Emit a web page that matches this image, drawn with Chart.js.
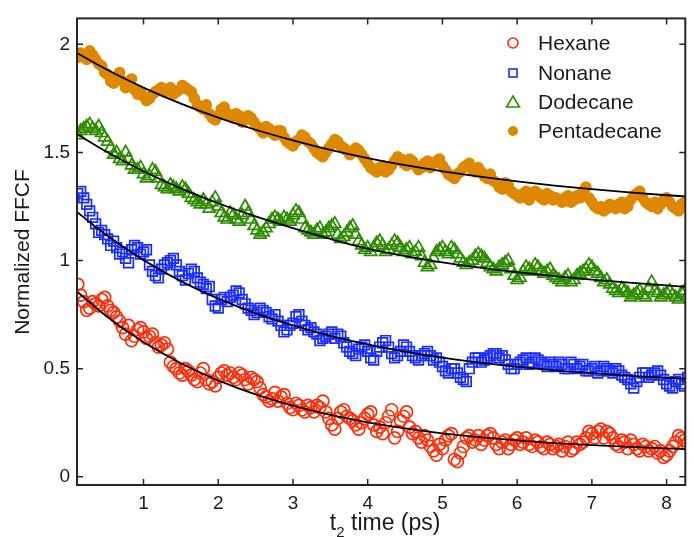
<!DOCTYPE html>
<html>
<head>
<meta charset="utf-8">
<script src="https://cdn.jsdelivr.net/npm/chart.js@4.4.1/dist/chart.umd.min.js"></script>
<style>
  html, body { margin: 0; padding: 0; background: #fff; }
  #wrap { width: 694px; height: 537px; }
</style>
</head>
<body>
<div id="wrap"><canvas id="ffcf" width="694" height="537"></canvas></div>
<script>
// t2 waiting times (ps), two interleaved sampling grids
const t = [0.12,0.20,0.28,0.36,0.44,0.52,0.60,0.68,0.76,0.84,0.92,1.00,1.08,1.16,1.24,1.32,1.40,1.48,1.56,1.64,
  1.72,1.80,1.88,1.96,2.04,2.12,2.20,2.28,2.36,2.44,2.52,2.60,2.68,2.76,2.84,2.92,3.00,3.08,3.16,3.24,
  3.32,3.40,3.48,3.56,3.64,3.72,3.80,3.88,3.96,4.04,4.12,4.20,4.28,4.36,4.44,4.52,4.60,4.68,4.76,4.84,
  4.92,5.00,5.08,5.16,5.24,5.32,5.40,5.48,5.56,5.64,5.72,5.80,5.88,5.96,6.04,6.12,6.20,6.28,6.36,6.44,
  6.52,6.60,6.68,6.76,6.84,6.92,7.00,7.08,7.16,7.24,7.32,7.40,7.48,7.56,7.64,7.72,7.80,7.88,7.96,8.04,
  8.12,8.20,8.28];
const tMid = [0.16,0.24,0.32,0.40,0.48,0.56,0.64,0.72,0.80,0.88,0.96,1.04,1.12,1.20,1.28,1.36,1.44,1.52,1.60,1.68,
  1.76,1.84,1.92,2.00,2.08,2.16,2.24,2.32,2.40,2.48,2.56,2.64,2.72,2.80,2.88,2.96,3.04,3.12,3.20,3.28,
  3.36,3.44,3.52,3.60,3.68,3.76,3.84,3.92,4.00,4.08,4.16,4.24,4.32,4.40,4.48,4.56,4.64,4.72,4.80,4.88,
  4.96,5.04,5.12,5.20,5.28,5.36,5.44,5.52,5.60,5.68,5.76,5.84,5.92,6.00,6.08,6.16,6.24,6.32,6.40,6.48,
  6.56,6.64,6.72,6.80,6.88,6.96,7.04,7.12,7.20,7.28,7.36,7.44,7.52,7.60,7.68,7.76,7.84,7.92,8.00,8.08,
  8.16,8.24];

// normalized FFCF per solvent (offset curves)
const hexane = [0.89,0.81,0.78,0.80,0.82,0.79,0.76,0.72,0.66,0.63, 0.68,0.67,0.65,0.62,0.61,0.59,0.51,0.48,0.50,0.47,
  0.44,0.50,0.43,0.42,0.48,0.47,0.46,0.48,0.45,0.46, 0.44,0.38,0.35,0.39,0.37,0.34,0.31,0.33,0.30,0.32,
  0.33,0.35,0.27,0.22,0.30,0.28,0.26,0.22,0.27,0.30, 0.21,0.20,0.28,0.18,0.26,0.30,0.20,0.18,0.19,0.14,
  0.10,0.13,0.19,0.08,0.11,0.18,0.16,0.19,0.17,0.20, 0.15,0.16,0.13,0.17,0.15,0.18,0.14,0.16,0.13,0.15,
  0.14,0.12,0.16,0.13,0.15,0.18,0.20,0.21,0.18,0.20, 0.15,0.17,0.13,0.15,0.12,0.14,0.13,0.11,0.09,0.12,
  0.16,0.18,0.15];
const hexaneMid = [0.84,0.77,0.81,0.79,0.83,0.77,0.74,0.69,0.70,0.65, 0.69,0.64,0.66,0.60,0.62,0.53,0.50,0.47,0.49,0.45,
  0.48,0.45,0.44,0.46,0.49,0.48,0.45,0.47,0.43,0.45, 0.41,0.37,0.36,0.35,0.38,0.32,0.34,0.31,0.33,0.30,
  0.32,0.30,0.24,0.27,0.31,0.27,0.24,0.25,0.29,0.24, 0.23,0.25,0.31,0.21,0.28,0.23,0.21,0.16,0.17,0.12,
  0.15,0.17,0.20,0.07,0.14,0.19,0.17,0.15,0.19,0.18, 0.13,0.17,0.15,0.18,0.16,0.15,0.17,0.14,0.16,0.13,
  0.15,0.14,0.12,0.16,0.16,0.21,0.18,0.22,0.21,0.18, 0.14,0.16,0.17,0.13,0.15,0.12,0.14,0.12,0.10,0.14,
  0.19,0.17];
const nonane = [1.31,1.29,1.23,1.17,1.14,1.10,1.09,1.03,1.01,1.05, 1.06,1.04,0.98,0.93,0.96,0.99,1.01,0.95,0.91,0.96,
  0.92,0.89,0.88,0.79,0.82,0.81,0.84,0.85,0.80,0.77, 0.76,0.77,0.74,0.75,0.70,0.68,0.71,0.75,0.70,0.69,
  0.66,0.64,0.66,0.64,0.65,0.60,0.57,0.59,0.61,0.55, 0.58,0.62,0.60,0.55,0.58,0.60,0.56,0.54,0.57,0.56,
  0.55,0.51,0.48,0.50,0.46,0.44,0.53,0.55,0.54,0.56, 0.57,0.56,0.52,0.50,0.53,0.55,0.53,0.54,0.52,0.53,
  0.51,0.52,0.50,0.52,0.51,0.49,0.50,0.48,0.51,0.49, 0.50,0.47,0.45,0.41,0.46,0.48,0.47,0.49,0.45,0.42,
  0.44,0.43,0.46];
const nonaneMid = [1.32,1.26,1.20,1.13,1.12,1.07,1.06,1.04,0.99,1.07, 1.03,1.05,0.95,0.92,0.98,1.00,0.98,0.93,0.94,0.95,
  0.90,0.87,0.82,0.78,0.83,0.83,0.86,0.82,0.78,0.75, 0.78,0.76,0.73,0.72,0.67,0.70,0.74,0.72,0.68,0.67,
  0.63,0.65,0.67,0.66,0.62,0.58,0.56,0.60,0.58,0.54, 0.60,0.63,0.57,0.56,0.61,0.58,0.55,0.56,0.58,0.54,
  0.53,0.49,0.50,0.48,0.45,0.50,0.55,0.53,0.55,0.57, 0.55,0.54,0.50,0.52,0.54,0.52,0.55,0.53,0.51,0.52,
  0.53,0.50,0.53,0.50,0.52,0.49,0.51,0.49,0.50,0.48, 0.49,0.46,0.43,0.44,0.48,0.46,0.48,0.47,0.43,0.41,
  0.45,0.42];
const dodecane = [1.58,1.61,1.63,1.60,1.59,1.55,1.49,1.47,1.50,1.44, 1.42,1.40,1.39,1.41,1.35,1.33,1.34,1.32,1.33,1.29,
  1.27,1.28,1.24,1.29,1.22,1.19,1.21,1.18,1.25,1.19, 1.14,1.13,1.17,1.20,1.18,1.19,1.21,1.22,1.15,1.13,
  1.14,1.12,1.15,1.17,1.10,1.13,1.16,1.09,1.05,1.04, 1.08,1.07,1.05,1.09,1.06,1.05,1.03,1.06,0.99,0.98,
  1.04,1.06,1.03,1.05,1.01,0.98,1.00,1.03,1.01,0.97, 0.95,0.98,1.00,0.93,0.92,0.97,0.95,0.97,0.94,0.96,
  0.92,0.90,0.93,0.91,0.94,0.96,0.97,0.94,0.90,0.89, 0.86,0.87,0.85,0.84,0.86,0.83,0.90,0.85,0.84,0.86,
  0.83,0.85,0.84];
const dodecaneMid = [1.60,1.62,1.61,1.62,1.57,1.52,1.50,1.46,1.47,1.42, 1.43,1.38,1.42,1.38,1.34,1.35,1.33,1.34,1.31,1.28,
  1.26,1.26,1.27,1.25,1.20,1.22,1.19,1.21,1.22,1.16, 1.12,1.15,1.19,1.19,1.20,1.18,1.23,1.19,1.14,1.12,
  1.15,1.13,1.16,1.12,1.11,1.15,1.12,1.07,1.06,1.06, 1.09,1.04,1.07,1.08,1.04,1.06,1.04,1.02,0.97,1.01,
  1.05,1.04,1.06,1.03,0.99,0.99,1.02,1.02,0.99,0.96, 0.97,0.99,0.96,0.91,0.95,0.96,0.98,0.95,0.95,0.93,
  0.91,0.92,0.90,0.93,0.95,0.98,0.95,0.92,0.91,0.87, 0.85,0.86,0.83,0.85,0.84,0.87,0.86,0.83,0.85,0.84,
  0.82,0.86];
const pentadecane = [1.94,1.95,1.97,1.93,1.90,1.86,1.82,1.87,1.80,1.84, 1.77,1.76,1.75,1.78,1.80,1.79,1.77,1.79,1.80,1.78,
  1.72,1.70,1.68,1.65,1.70,1.68,1.66,1.67,1.65,1.66, 1.62,1.59,1.61,1.58,1.60,1.55,1.53,1.56,1.57,1.54,
  1.50,1.48,1.52,1.56,1.53,1.51,1.50,1.51,1.47,1.43, 1.41,1.44,1.42,1.46,1.47,1.44,1.46,1.42,1.45,1.43,
  1.46,1.44,1.40,1.38,1.41,1.44,1.42,1.43,1.39,1.40, 1.36,1.33,1.35,1.31,1.29,1.32,1.30,1.31,1.28,1.30,
  1.29,1.27,1.30,1.28,1.29,1.34,1.27,1.24,1.23,1.26, 1.24,1.27,1.25,1.30,1.32,1.27,1.25,1.24,1.28,1.27,
  1.24,1.26,1.25];
const pentadecaneMid = [1.96,1.93,1.95,1.91,1.87,1.83,1.85,1.83,1.82,1.79, 1.78,1.74,1.77,1.79,1.78,1.80,1.78,1.81,1.79,1.75,
  1.71,1.72,1.66,1.67,1.71,1.67,1.68,1.64,1.67,1.64, 1.61,1.62,1.59,1.60,1.57,1.54,1.55,1.58,1.55,1.52,
  1.49,1.50,1.54,1.55,1.52,1.49,1.52,1.49,1.45,1.42, 1.43,1.41,1.44,1.48,1.45,1.47,1.44,1.43,1.46,1.45,
  1.47,1.42,1.39,1.40,1.43,1.45,1.41,1.41,1.38,1.37, 1.34,1.36,1.32,1.30,1.31,1.28,1.32,1.29,1.31,1.28,
  1.28,1.29,1.27,1.30,1.32,1.29,1.25,1.25,1.24,1.25, 1.26,1.24,1.28,1.31,1.29,1.26,1.27,1.26,1.29,1.25,
  1.23,1.27];

// fitted curves (black lines)
const fitT = [0.11,0.5,1,1.5,2,2.5,3,3.5,4,4.5,5,5.5,6,6.5,7,7.5,8,8.25];
const hexaneFit = [0.857,0.744,0.623,0.525,0.446,0.381,0.329,0.286,0.252,0.224,0.201,0.183,0.168,0.156,0.146,0.138,0.131,0.128];
const nonaneFit = [1.225,1.118,1.002,0.905,0.824,0.756,0.700,0.652,0.612,0.579,0.551,0.528,0.509,0.492,0.479,0.467,0.458,0.454];
const dodecaneFit = [1.585,1.504,1.413,1.334,1.265,1.204,1.150,1.100,1.055,1.021,0.992,0.967,0.946,0.928,0.912,0.898,0.885,0.879];
const pentadecaneFit = [1.960,1.885,1.800,1.726,1.661,1.605,1.556,1.512,1.474,1.441,1.413,1.388,1.366,1.347,1.330,1.315,1.302,1.297];

const xTicks = [1,2,3,4,5,6,7,8];
const yTicks = [0,0.5,1,1.5,2];

const FONT = "'Liberation Sans', Arial, Helvetica, sans-serif";
const AXIS = '#262626';

const colors = {
    hexane: 'rgb(255,45,10)',
    nonane: 'rgb(25,45,255)',
    dodecane: 'rgb(45,140,0)',
    pentadecane: 'rgb(222,136,0)'
};

function pts(xs, ys) {
    return xs.map((x, i) => ({ x: x, y: ys[i] }));
}

function fitSet(ys) {
    return {
        type: 'line',
        data: pts(fitT, ys),
        borderColor: '#000',
        borderWidth: 1.8,
        pointRadius: 0,
        cubicInterpolationMode: 'monotone',
        fill: false,
        order: 0
    };
}

const series = [
    { label: 'Hexane', a: hexane, b: hexaneMid, color: colors.hexane, style: 'circle', r: 6, filled: false },
    { label: 'Nonane', a: nonane, b: nonaneMid, color: colors.nonane, style: 'rect', r: 6.8, filled: false },
    { label: 'Dodecane', a: dodecane, b: dodecaneMid, color: colors.dodecane, style: 'triangle', r: 7, filled: false },
    { label: 'Pentadecane', a: pentadecane, b: pentadecaneMid, color: colors.pentadecane, style: 'circle', r: 5.8, filled: true }
];

const datasets = [
    fitSet(hexaneFit), fitSet(nonaneFit), fitSet(dodecaneFit), fitSet(pentadecaneFit)
];
series.forEach(s => {
    datasets.push({
        type: 'scatter',
        label: s.label,
        data: pts(t, s.a).concat(pts(tMid, s.b)),
        pointStyle: s.style,
        pointRadius: s.r,
        pointBorderWidth: s.filled ? 0 : 1.7,
        pointBorderColor: s.color,
        pointBackgroundColor: s.filled ? s.color : 'rgba(0,0,0,0)',
        order: 1
    });
});

// frame, inward ticks, axis titles and legend (MATLAB look)
const decorations = {
    id: 'decorations',
    afterDraw(chart) {
        const ctx = chart.ctx;
        const a = chart.chartArea;
        const xs = chart.scales.x, ys = chart.scales.y;
        ctx.save();
        ctx.strokeStyle = AXIS;
        ctx.lineWidth = 2;
        ctx.strokeRect(a.left, a.top, a.right - a.left, a.bottom - a.top);
        ctx.lineWidth = 1.5;
        ctx.beginPath();
        xTicks.forEach(v => {
            const px = xs.getPixelForValue(v);
            ctx.moveTo(px, a.bottom); ctx.lineTo(px, a.bottom - 6);
            ctx.moveTo(px, a.top); ctx.lineTo(px, a.top + 6);
        });
        yTicks.forEach(v => {
            const py = ys.getPixelForValue(v);
            ctx.moveTo(a.left, py); ctx.lineTo(a.left + 6, py);
            ctx.moveTo(a.right, py); ctx.lineTo(a.right - 6, py);
        });
        ctx.stroke();

        // y title
        ctx.fillStyle = '#1a1a1a';
        ctx.font = '21px ' + FONT;
        ctx.textAlign = 'center';
        ctx.textBaseline = 'middle';
        ctx.save();
        ctx.translate(23, 252);
        ctx.rotate(-Math.PI / 2);
        ctx.fillText('Normalized FFCF', 0, 0);
        ctx.restore();

        // x title with subscript
        ctx.textAlign = 'left';
        ctx.textBaseline = 'alphabetic';
        const big = '23px ' + FONT, small = '15px ' + FONT;
        ctx.font = big;
        const w1 = ctx.measureText('t').width;
        const w3 = ctx.measureText(' time (ps)').width;
        ctx.font = small;
        const w2 = ctx.measureText('2').width;
        let x0 = (a.left + a.right) / 2 + 4 - (w1 + w2 + w3) / 2;
        ctx.font = big;
        ctx.fillText('t', x0, 530);
        ctx.font = small;
        ctx.fillText('2', x0 + w1, 537);
        ctx.font = big;
        ctx.fillText(' time (ps)', x0 + w1 + w2, 530);

        // legend
        const rows = [43, 73, 102, 131];
        const mx = 513, tx = 538;
        series.forEach((s, i) => {
            const y = rows[i];
            ctx.strokeStyle = s.color;
            ctx.fillStyle = s.color;
            ctx.lineWidth = 1.6;
            ctx.beginPath();
            if (s.style === 'circle' && !s.filled) {
                ctx.arc(mx, y, 5, 0, Math.PI * 2);
                ctx.stroke();
            } else if (s.style === 'rect') {
                ctx.strokeRect(mx - 4, y - 4, 8, 8);
            } else if (s.style === 'triangle') {
                ctx.moveTo(mx, y - 6);
                ctx.lineTo(mx + 6.5, y + 5);
                ctx.lineTo(mx - 6.5, y + 5);
                ctx.closePath();
                ctx.stroke();
            } else {
                ctx.arc(mx, y, 5, 0, Math.PI * 2);
                ctx.fill();
            }
            ctx.fillStyle = '#1a1a1a';
            ctx.font = '21px ' + FONT;
            ctx.textAlign = 'left';
            ctx.textBaseline = 'middle';
            ctx.fillText(s.label, tx, y + 1);
        });
        ctx.restore();
    }
};

new Chart(document.getElementById('ffcf'), {
    type: 'scatter',
    data: { datasets: datasets },
    options: {
        responsive: false,
        animation: false,
        layout: { padding: { top: 13, right: 1, left: 0, bottom: 0 } },
        plugins: {
            legend: { display: false },
            tooltip: { enabled: false }
        },
        scales: {
            x: {
                type: 'linear',
                min: 0.11,
                max: 8.25,
                afterFit: s => { s.height = 52; },
                grid: { display: false, drawTicks: false },
                border: { display: false },
                ticks: {
                    stepSize: 1,
                    includeBounds: false,
                    padding: 7,
                    color: '#1a1a1a',
                    font: { family: FONT, size: 19 },
                    maxRotation: 0
                },
                afterBuildTicks: s => { s.ticks = xTicks.map(v => ({ value: v })); }
            },
            y: {
                type: 'linear',
                min: -0.038,
                max: 2.12,
                afterFit: s => { s.width = 77; },
                grid: { display: false, drawTicks: false },
                border: { display: false },
                ticks: {
                    stepSize: 0.5,
                    includeBounds: false,
                    padding: 7,
                    color: '#1a1a1a',
                    font: { family: FONT, size: 19 },
                    callback: v => String(v)
                },
                afterBuildTicks: s => { s.ticks = yTicks.map(v => ({ value: v })); }
            }
        }
    },
    plugins: [decorations]
});
</script>
</body>
</html>
